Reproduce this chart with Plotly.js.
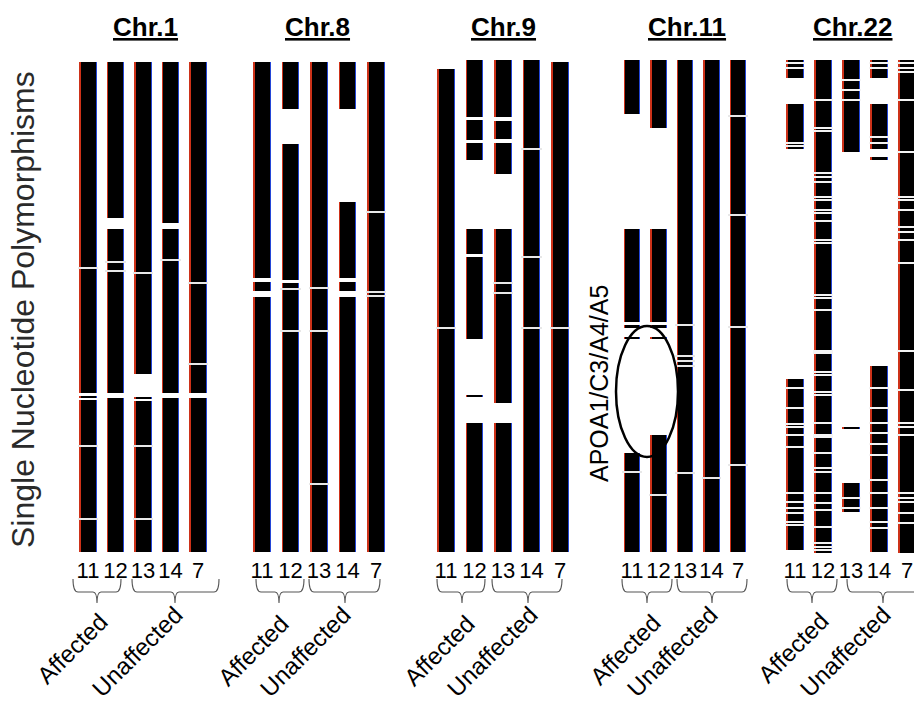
<!DOCTYPE html>
<html><head><meta charset="utf-8">
<script src="https://cdn.plot.ly/plotly-3.0.1.min.js"></script>
<style>html,body{margin:0;padding:0;background:#fff}#chart{width:914px;height:703px}</style>
</head><body><div id="chart"></div>
<script>
// ---------------- DATA ----------------
const individuals = ["11", "12", "13", "14", "7"];
const chromosomes = ["Chr.1", "Chr.8", "Chr.9", "Chr.11", "Chr.22"];
const groupLabels = ["Affected", "Unaffected"];
const geneLabel = "APOA1/C3/A4/A5";
const yTitle = "Single Nucleotide Polymorphisms";

// SNP runs drawn black: [start, end] in SNP index (0 = top), one list per individual (11,12,13,14,7)
const chr1Blocks = [
  [[2,333],[336,338],[340,492]],
  [[2,158],[169,333],[338,492]],
  [[2,314],[337,339],[341,492]],
  [[2,163],[169,333],[338,492]],
  [[2,333],[338,492]]
];
// single-SNP breaks (white lines) per individual
const chr1Lines = [[208,386,459],[202,211],[213,386,459],[200],[223,304]];

const chr8Blocks = [
  [[2,218],[222,231],[237,492]],
  [[2,49],[84,220],[223,492]],
  [[2,492]],
  [[2,49],[142,218],[222,231],[237,492]],
  [[2,492]]
];
const chr8Lines = [[],[229,271],[228,271,424],[],[152,232,236]];

const chr9Blocks = [
  [[9,492]],
  [[0,57],[60,80],[83,100],[169,194],[197,279],[335,337],[363,492]],
  [[0,57],[61,79],[83,114],[169,343],[363,492]],
  [[0,492]],
  [[2,492]]
];
const chr9Lines = [[268],[],[223,233],[89,197,268],[268]];

const chr11Blocks = [
  [[0,54],[169,262],[265,268],[277,279],[393,492]],
  [[0,68],[169,262],[265,268],[277,279],[375,492]],
  [[0,492]],
  [[0,492]],
  [[0,492]]
];
const chr11Lines = [[412],[435],[265,296,301,306,413],[418],[56,155,267,405]];

const chr22Blocks = [
  [[0,18],[44,89],[319,490]],
  [[0,493]],
  [[0,92],[367,369],[423,452]],
  [[0,18],[44,89],[97,100],[306,492]],
  [[0,493]]
];
const chr22Lines = [
  [3,8,83,86,328,348,364,367,375,387,433,442,448,453,462,465],
  [40,68,71,113,117,122,137,140,150,153,161,180,183,235,238,250,291,293,312,315,332,335,363,375,377,393,408,412,433,443,450,467,483,487,490],
  [20,30,40,438,448],
  [3,8,77,83,328,348,363,373,384,395,420,433,448,462,468],
  [3,8,12,40,92,137,140,150,167,172,180,203,291,330,363,367,375,433,438,442,453,463]
];

// ---------------- LAYOUT CONSTANTS ----------------
const W = 914, H = 703;
const px2x = p => p / W;
const py2y = p => 1 - p / H;
const yTopPx = 60, yBotPx = 555, yUnits = 495;
const NARROW = '"Liberation Sans Narrow", "Arial Narrow", "Liberation Sans", Arial, sans-serif';
const REG = '"Liberation Sans", Arial, sans-serif';

const panels = [
  {blocks: chr1Blocks,  lines: chr1Lines,  c: 143, s: 27.5, bar: 15, lt: 2,   lc: '#e8e8e8'},
  {blocks: chr8Blocks,  lines: chr8Lines,  c: 319, s: 28.5, bar: 15, lt: 2,   lc: '#e8e8e8'},
  {blocks: chr9Blocks,  lines: chr9Lines,  c: 503, s: 28.5, bar: 15, lt: 2,   lc: '#e8e8e8'},
  {blocks: chr11Blocks, lines: chr11Lines, c: 685, s: 26.5, bar: 14, lt: 2,   lc: '#e8e8e8'},
  {blocks: chr22Blocks, lines: chr22Lines, c: 851, s: 28,   bar: 15, lt: 2.5, lc: '#f4f4f4'}
];
const titlePx = [[145,27],[317,27],[503,27],[687,27],[853,27]];
// braces: [left, right, tick] pixel x for Affected / Unaffected
const bracePx = [
  [[73,121,97],[132,219,175]],
  [[256,304,279],[309,380,345]],
  [[437,485,462],[492,562,528]],
  [[622,672,647],[677,747,712]],
  [[787,837,812],[847,919,883]]
];
const labelPx = [
  [[72,648],[137,651]],
  [[253,650],[305,651]],
  [[439,650],[492,651]],
  [[625,649],[672,651]],
  [[793,647],[845,651]]
];

const traces = [];
const layout = {
  width: W, height: H,
  margin: {l:0, r:0, t:0, b:0},
  paper_bgcolor: '#fff', plot_bgcolor: 'rgba(0,0,0,0)',
  barmode: 'overlay', bargap: 0, showlegend: false, hovermode: false,
  font: {family: NARROW, color: '#000'},
  yaxis: {domain: [py2y(yBotPx), py2y(yTopPx)], range: [yUnits, 0], visible: false, fixedrange: true, anchor: 'x'},
  shapes: [], annotations: []
};

panels.forEach((p, g) => {
  const ax = g === 0 ? 'x' : 'x' + (g + 1);
  const axName = g === 0 ? 'xaxis' : 'xaxis' + (g + 1);
  const leftPx = p.c - 2.5 * p.s, rightPx = Math.min(W, p.c + 2.5 * p.s);
  layout[axName] = {
    domain: [px2x(leftPx), px2x(rightPx)],
    range: [-0.5, (rightPx - leftPx) / p.s - 0.5],
    anchor: 'y', tickmode: 'array', tickvals: [0,1,2,3,4], ticktext: individuals,
    showgrid: false, zeroline: false, showline: false, ticks: '',
    tickfont: {size: 22, family: NARROW, color: '#000'}, fixedrange: true
  };
  const w = p.bar / p.s, e = 1.3 / p.s;
  const bx = [], bb = [], bl = [];
  p.blocks.forEach((segs, k) => segs.forEach(([a, b]) => { bx.push(k); bb.push(a); bl.push(b - a); }));
  [['rgb(205,50,25)', -w/2 - e], ['rgb(35,70,215)', -w/2 + e], ['#000', -w/2]].forEach(([col, off]) => {
    traces.push({type: 'bar', xaxis: ax, yaxis: 'y', x: bx, base: bb, y: bl, width: w, offset: off,
      marker: {color: col, line: {width: 0}}, hoverinfo: 'skip', showlegend: false});
  });
  const lx = [], lb = [], ll = [];
  p.lines.forEach((arr, k) => arr.forEach(v => { lx.push(k); lb.push(v - p.lt / 2); ll.push(p.lt); }));
  traces.push({type: 'bar', xaxis: ax, yaxis: 'y', x: lx, base: lb, y: ll, width: w + 2*e + 0.1, offset: -(w/2 + e + 0.05),
    marker: {color: p.lc, line: {width: 0}}, hoverinfo: 'skip', showlegend: false});

  // title
  layout.annotations.push({xref: 'paper', yref: 'paper', x: px2x(titlePx[g][0]), y: py2y(titlePx[g][1]),
    xanchor: 'center', yanchor: 'middle', showarrow: false,
    text: '<b><u>' + chromosomes[g] + '</u></b>', font: {family: NARROW, size: 26, color: '#000'}});

  // braces + group labels
  bracePx[g].forEach(([l, r, t], j) => {
    const X = px2x, Y = py2y;
    const path = `M ${X(l)} ${Y(579)} Q ${X(l)} ${Y(592)} ${X(l+5)} ${Y(592)} L ${X(t-4)} ${Y(592)} Q ${X(t)} ${Y(592)} ${X(t)} ${Y(603)} Q ${X(t)} ${Y(592)} ${X(t+4)} ${Y(592)} L ${X(r-5)} ${Y(592)} Q ${X(r)} ${Y(592)} ${X(r)} ${Y(579)}`;
    layout.shapes.push({type: 'path', xref: 'paper', yref: 'paper', path: path, line: {color: '#555', width: 1.1}});
    layout.annotations.push({xref: 'paper', yref: 'paper', x: px2x(labelPx[g][j][0]), y: py2y(labelPx[g][j][1]),
      xanchor: 'center', yanchor: 'middle', showarrow: false, textangle: -45,
      text: groupLabels[j], font: {family: NARROW, size: 24, color: '#000'}});
  });
});

// ellipse around APOA1/C3/A4/A5 region in Chr.11
layout.shapes.push({type: 'circle', xref: 'paper', yref: 'paper',
  x0: px2x(616), x1: px2x(678), y0: py2y(457), y1: py2y(326), line: {color: '#000', width: 2.5}});
layout.annotations.push({xref: 'paper', yref: 'paper', x: px2x(599), y: py2y(384), xanchor: 'center', yanchor: 'middle',
  showarrow: false, textangle: -90, text: geneLabel, font: {family: REG, size: 25, color: '#000'}});
layout.annotations.push({xref: 'paper', yref: 'paper', x: px2x(23), y: py2y(310), xanchor: 'center', yanchor: 'middle',
  showarrow: false, textangle: -90, text: yTitle, font: {family: REG, size: 32, color: '#2a2a2a'}});

Plotly.newPlot('chart', traces, layout, {staticPlot: true, displayModeBar: false});
</script>
</body></html>
